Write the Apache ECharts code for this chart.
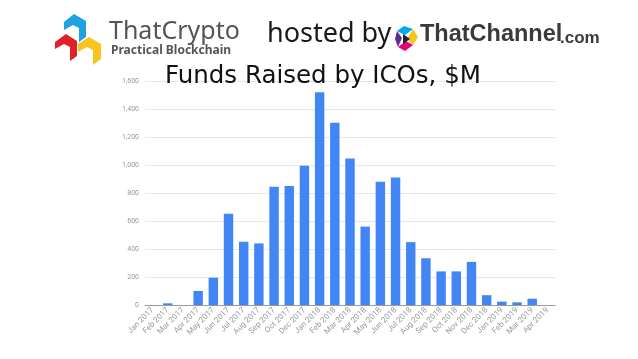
<!DOCTYPE html>
<html><head><meta charset="utf-8">
<script src="https://cdn.jsdelivr.net/npm/echarts@6/dist/echarts.min.js"></script>
<style>html,body{margin:0;padding:0;background:#fff}#c{width:638px;height:359px}</style>
</head><body><div id="c"></div>
<script>
var categories = ["Jan 2017","Feb 2017","Mar 2017","Apr 2017","May 2017","Jun 2017","Jul 2017","Aug 2017","Sep 2017","Oct 2017","Dec 2017","Jan 2018","Feb 2018","Mar 2018","Apr 2018","May 2018","Jun 2018","Jul 2018","Aug 2018","Sep 2018","Oct 2018","Nov 2018","Dec 2018","Jan 2019","Feb 2019","Mar 2019","Apr 2019"];
var funds = [0,12,0,100,195,652,452,440,845,850,995,1520,1302,1047,560,881,910,449,334,240,240,308,70,24,19,45,0];
var yTicks = {min:0, max:1600, interval:200};

var chart = echarts.init(document.getElementById('c'), null, {renderer:'canvas'});
chart.setOption({
  animation:false,
  backgroundColor:'#fff',
  title:{text:'Funds Raised by ICOs, $M', left:160, top:59,
    textStyle:{fontFamily:'DejaVu Sans', fontSize:24.5, fontWeight:'normal', color:'#111'}},
  grid:{left:145, right:83, top:81, bottom:54, containLabel:false},
  xAxis:{type:'category', data:categories,
    axisLine:{lineStyle:{color:'#9a9a9a', width:1}},
    axisTick:{show:false},
    axisLabel:{rotate:45, interval:0, fontSize:8, color:'#999', fontFamily:'Roboto', margin:4}},
  yAxis:{type:'value', min:yTicks.min, max:yTicks.max, interval:yTicks.interval,
    axisLine:{show:false}, axisTick:{show:false},
    splitLine:{lineStyle:{color:'#e8e8e8'}},
    axisLabel:{fontSize:7, color:'#999', fontFamily:'Roboto', margin:6,
      formatter:function(v){return v.toLocaleString('en-US');}}},
  series:[{type:'bar', data:funds, barWidth:'62%', itemStyle:{color:'#4285f4'}}],
  graphic:[
    {type:'polygon', shape:{points:[[64,22],[74,14],[86,21],[86,37],[79,42],[79,28],[73,25],[64,30]]}, style:{fill:'#1fa3e0'}},
    {type:'polygon', shape:{points:[[55,42],[66,34],[77,41],[77,56],[70,61],[70,47],[64,44],[55,49]]}, style:{fill:'#e0212a'}},
    {type:'polygon', shape:{points:[[78,44],[89,37],[101,44],[101,59],[93,65],[93,50],[87,47],[78,52]]}, style:{fill:'#f7c51e'}},
    {type:'text', left:109, top:19, style:{text:'ThatCrypto', fontFamily:'Noto Sans', fontSize:25, fill:'#555'}},
    {type:'text', left:111, top:45, style:{text:'Practical Blockchain', fontFamily:'Noto Sans', fontSize:12, fontWeight:'bold', fill:'#555'}},
    {type:'text', left:267, top:21, style:{text:'hosted by', fontFamily:'Noto Sans', fontSize:27, fill:'#1a1a1a'}},
    {type:'polygon', shape:{points:[[397,31],[404,26],[413,29],[405,35]]}, style:{fill:'#00a8e8'}},
    {type:'polygon', shape:{points:[[413,29],[418,37],[413,45],[407,39]]}, style:{fill:'#f7c51e'}},
    {type:'polygon', shape:{points:[[413,45],[405,51],[398,47],[406,41]]}, style:{fill:'#e4007c'}},
    {type:'polygon', shape:{points:[[398,47],[395,39],[397,31],[402,38]]}, style:{fill:'#5b2d8e'}},
    {type:'polygon', shape:{points:[[403,34],[410,39],[403,44]]}, style:{fill:'#222'}},
    {type:'text', left:420, top:23, style:{text:'ThatChannel', fontFamily:'Liberation Sans', fontSize:23.5, fontWeight:'bold', fill:'#3a3a3a'}},
    {type:'text', left:560, top:30, style:{text:'.com', fontFamily:'Liberation Sans', fontSize:17, fontWeight:'bold', fill:'#3a3a3a'}}
  ]
});
</script></body></html>
